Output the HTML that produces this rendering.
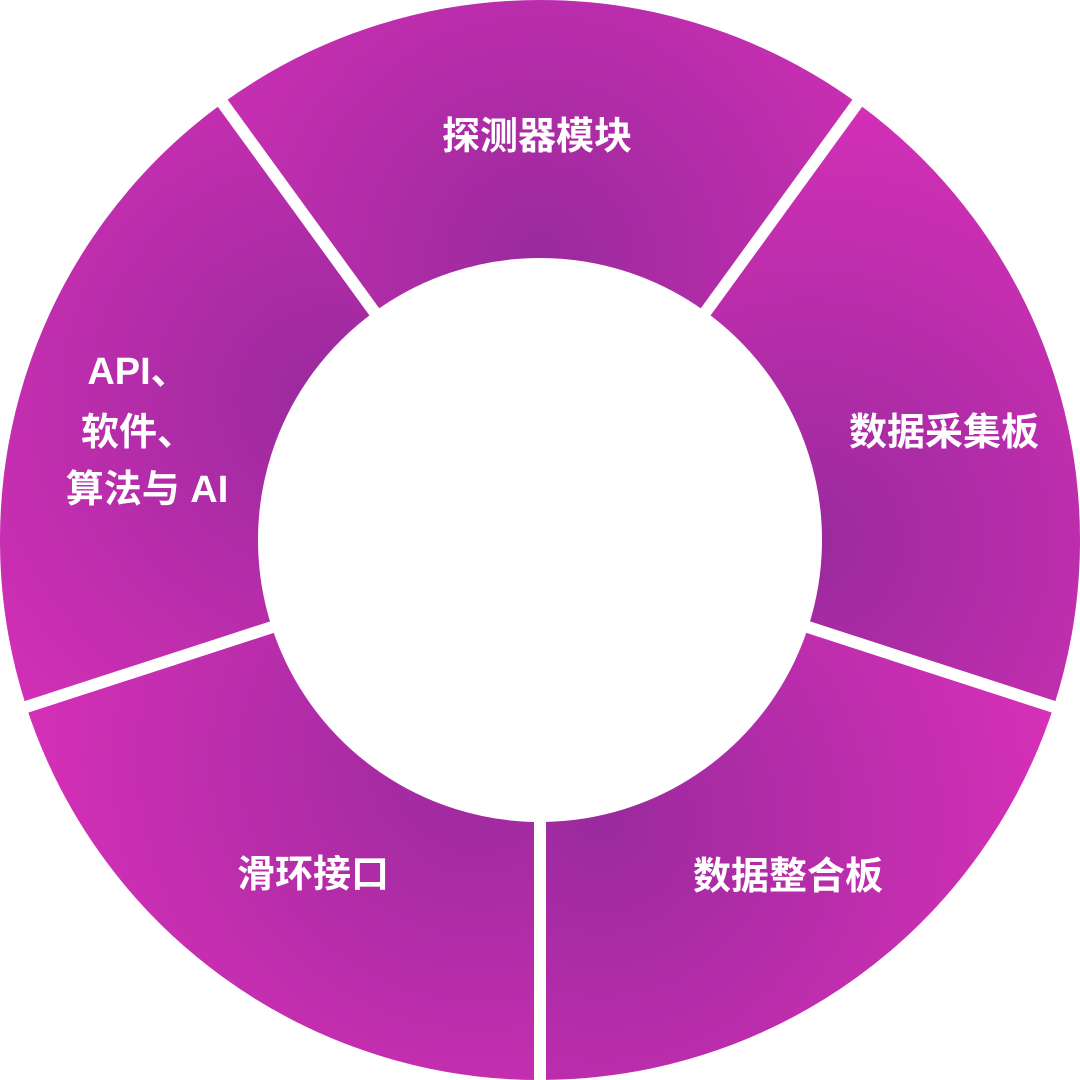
<!DOCTYPE html>
<html><head><meta charset="utf-8"><style>
html,body{margin:0;padding:0;background:#fff;}
svg{display:block}
text{font-family:"Liberation Sans","Noto Sans CJK SC",sans-serif;font-weight:bold;fill:#fff;font-size:38px;text-anchor:middle;dominant-baseline:central}
</style></head><body>
<svg width="1080" height="1080" viewBox="0 0 1080 1080">
<defs>
<radialGradient id="g0" gradientUnits="userSpaceOnUse" cx="540" cy="257" r="480"><stop offset="0" stop-color="#9a2a9e"/><stop offset="1" stop-color="#d830b8"/></radialGradient>
<radialGradient id="g1" gradientUnits="userSpaceOnUse" cx="809" cy="540" r="480"><stop offset="0" stop-color="#9a2a9e"/><stop offset="1" stop-color="#d830b8"/></radialGradient>
<radialGradient id="g2" gradientUnits="userSpaceOnUse" cx="600" cy="820" r="480"><stop offset="0" stop-color="#9a2a9e"/><stop offset="1" stop-color="#d830b8"/></radialGradient>
<radialGradient id="g3" gradientUnits="userSpaceOnUse" cx="480" cy="760" r="480"><stop offset="0" stop-color="#9a2a9e"/><stop offset="1" stop-color="#d830b8"/></radialGradient>
<radialGradient id="g4" gradientUnits="userSpaceOnUse" cx="330" cy="400" r="480"><stop offset="0" stop-color="#9a2a9e"/><stop offset="1" stop-color="#d830b8"/></radialGradient>
</defs>
<g stroke="#fff" stroke-width="12" stroke-linejoin="miter">
<path fill="url(#g0)" d="M219.1,98.3 A546,546 0 0 1 860.9,98.3 L702.2,316.7 A276,276 0 0 0 377.8,316.7 Z"/>
<path fill="url(#g1)" d="M860.9,98.3 A546,546 0 0 1 1059.3,708.7 L802.5,625.3 A276,276 0 0 0 702.2,316.7 Z"/>
<path fill="url(#g2)" d="M1059.3,708.7 A546,546 0 0 1 540,1086 L540,816 A276,276 0 0 0 802.5,625.3 Z"/>
<path fill="url(#g3)" d="M540,1086 A546,546 0 0 1 20.7,708.7 L277.5,625.3 A276,276 0 0 0 540,816 Z"/>
<path fill="url(#g4)" d="M20.7,708.7 A546,546 0 0 1 219.1,98.3 L377.8,316.7 A276,276 0 0 0 277.5,625.3 Z"/>
</g>
<text x="537" y="137">探测器模块</text>
<text x="944" y="433">数据采集板</text>
<text x="788" y="877">数据整合板</text>
<text x="313" y="875">滑环接口</text>
<text x="138" y="372">API、</text>
<text x="138" y="433">软件、</text>
<text x="147" y="490">算法与 AI</text>
</svg>
</body></html>
